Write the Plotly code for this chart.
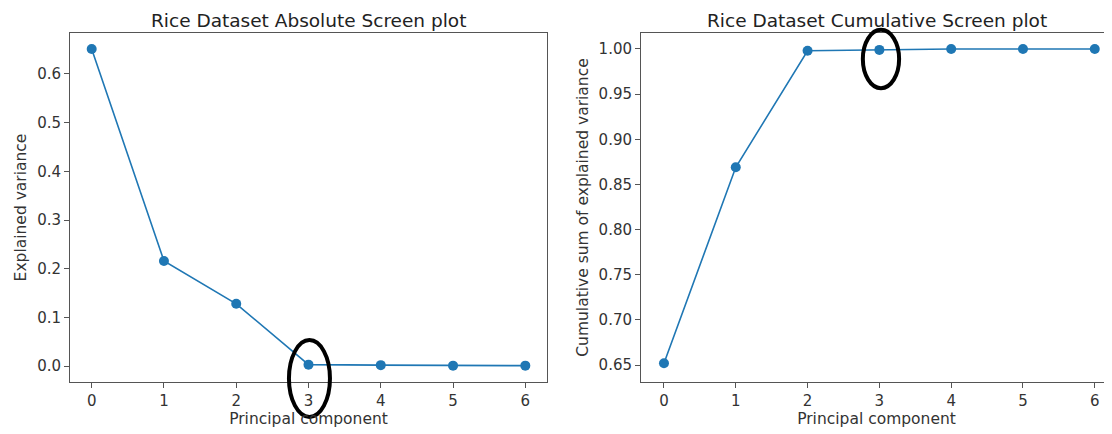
import plotly.graph_objects as go
from plotly.subplots import make_subplots

components = [0, 1, 2, 3, 4, 5, 6]
explained = [0.651, 0.216, 0.128, 0.003, 0.002, 0.001, 0.001]
cumulative = [0.652, 0.869, 0.998, 0.999, 1.000, 1.000, 1.000]

titles = ["Rice Dataset Absolute Screen plot", "Rice Dataset Cumulative Screen plot"]
y_titles = ["Explained variance", "Cumulative sum of explained variance"]
x_title = "Principal component"
left_ticks = [0.0, 0.1, 0.2, 0.3, 0.4, 0.5, 0.6]
left_tick_text = ["0.0", "0.1", "0.2", "0.3", "0.4", "0.5", "0.6"]
right_ticks = [0.65, 0.70, 0.75, 0.80, 0.85, 0.90, 0.95, 1.00]
right_tick_text = ["0.65", "0.70", "0.75", "0.80", "0.85", "0.90", "0.95", "1.00"]

blue = "#1f77b4"
FONT = "DejaVu Sans"
TXT = "#333"

fig = make_subplots(rows=1, cols=2)
fig.add_trace(go.Scatter(x=components, y=explained, mode="lines+markers",
                         line=dict(color=blue, width=1.6),
                         marker=dict(color=blue, size=10)), row=1, col=1)
fig.add_trace(go.Scatter(x=components, y=cumulative, mode="lines+markers",
                         line=dict(color=blue, width=1.6),
                         marker=dict(color=blue, size=10)), row=1, col=2)

# page body has an 8px margin, so the figure is 8px smaller than the window
W, H = 1104, 426
d1 = [62 / W, 539 / W]
d2 = [633 / W, 1.0]

axis_common = dict(showgrid=False, zeroline=False, showline=True, linecolor="#555",
                   linewidth=1, mirror=True, ticks="outside", ticklen=5,
                   tickcolor="#555", automargin=False,
                   tickfont=dict(size=15, color=TXT, family=FONT))

fig.update_xaxes(**axis_common)
fig.update_yaxes(**axis_common)

tfont = dict(size=15.5, color=TXT, family=FONT)
fig.update_layout(
    xaxis=dict(domain=d1, range=[-0.3, 6.3], tickvals=components,
               title=dict(text=x_title, font=tfont, standoff=2)),
    xaxis2=dict(domain=d2, range=[-0.32, 6.24], tickvals=components,
                title=dict(text=x_title, font=tfont, standoff=2)),
    yaxis=dict(domain=[0, 1], range=[-0.0326, 0.684], tickvals=left_ticks, ticktext=left_tick_text,
               title=dict(text=y_titles[0], font=tfont, standoff=6)),
    yaxis2=dict(domain=[0, 1], range=[0.6312, 1.0177], tickvals=right_ticks, ticktext=right_tick_text,
                title=dict(text=y_titles[1], font=tfont, standoff=6)),
    width=W, height=H,
    margin=dict(l=0, r=0, t=25, b=52),
    paper_bgcolor="white", plot_bgcolor="white",
    showlegend=False,
    font=dict(family=FONT, color=TXT),
)

for i, ref in enumerate(["x", "x2"]):
    fig.add_annotation(text=titles[i], xref=f"{ref} domain", yref=f"{'y' if i == 0 else 'y2'} domain",
                       x=0.5, y=1.0, yshift=1, yanchor="bottom", showarrow=False, borderpad=0,
                       font=dict(size=18.5, color="#222", family=FONT))

# hand-drawn highlight ellipses around component 3
fig.add_shape(type="circle", xref="x domain", yref="y domain",
              x0=0.459, x1=0.545, y0=-0.100, y1=0.120,
              line=dict(color="black", width=4), layer="above")
fig.add_shape(type="circle", xref="x2 domain", yref="y2 domain",
              x0=0.471, x1=0.548, y0=0.842, y1=1.009,
              line=dict(color="black", width=4), layer="above")

fig.write_html("out.html")
